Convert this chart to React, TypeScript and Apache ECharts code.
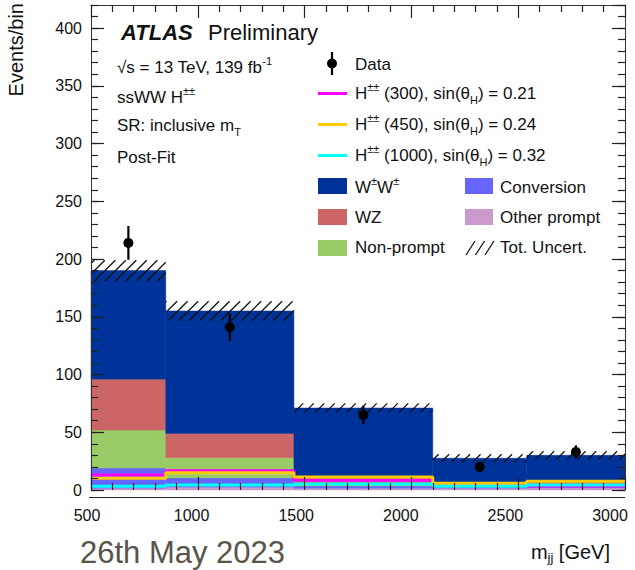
import { useEffect, useRef } from 'react';
import * as echarts from 'echarts';

// m_jj bin edges [GeV]
const binEdges = [500, 850, 1450, 2100, 2540, 3000];

// Post-fit background yields per bin, stacked bottom to top
const otherPrompt = [1.5, 2.5, 1.5, 1.5, 2];
const conversion = [17.5, 8, 2, 1.5, 1.5];
const nonPrompt = [33, 17.5, 3, 2, 2];
const wz = [44, 21, 5, 2, 3];
const wpmwpm = [94, 106, 59.5, 20.5, 21.5];
const totalUncert = [9, 8.5, 4, 3.5, 3.5];

// Observed events and their statistical errors
const dataCounts = [214, 141, 65, 20, 33];
const dataErrors = [14.6, 11.9, 8.1, 4.5, 5.7];

// Signal hypotheses (not stacked)
const sig300 = [13, 16.7, 8.4, 3.5, 3.5];
const sig450 = [10.2, 15, 11.2, 5.9, 7.6];
const sig1000 = [3.2, 4.3, 5.2, 3.2, 4.3];

const FAMILY = "'Liberation Sans', Arial, Helvetica, sans-serif";
const INK = '#111';
const TICK = '#222';

const COLORS = {
  ww: '#003399',
  wz: '#cc6666',
  nonPrompt: '#99cc66',
  conversion: '#6666ff',
  otherPrompt: '#cc99cc',
  s300: '#ff00ff',
  s450: '#ffcc00',
  s1000: '#00ffff',
};

const GRID_MAIN = { left: 91, right: 10, top: 5, bottom: 80 };

function richTokens(size: number, subSize: number) {
  return {
    sup: { fontSize: subSize, fontFamily: FAMILY, lineHeight: 14, verticalAlign: 'top', fill: INK, color: INK },
    sub: { fontSize: subSize, fontFamily: FAMILY, lineHeight: subSize, verticalAlign: 'bottom', fill: INK, color: INK },
  };
}

function label(x: number, y: number, text: string, size: number, extra: any = {}) {
  return {
    type: 'text',
    x,
    y,
    z: 100,
    style: {
      text,
      fontSize: size,
      fontFamily: FAMILY,
      fill: INK,
      lineHeight: 24,
      align: 'left',
      verticalAlign: 'middle',
      textAlign: 'left',
      textVerticalAlign: 'middle',
      rich: richTokens(size, Math.round(size * 0.66)),
      ...extra,
    },
  };
}

function rectRenderer(color: string) {
  return (_params: any, api: any) => {
    const a = api.coord([api.value(0), api.value(3)]);
    const b = api.coord([api.value(1), api.value(2)]);
    return {
      type: 'rect',
      shape: { x: a[0], y: a[1], width: b[0] - a[0], height: b[1] - a[1] },
      style: { fill: color, stroke: color, lineWidth: 0.5 },
    };
  };
}

function hatchRenderer(_params: any, api: any) {
  const a = api.coord([api.value(0), api.value(3)]);
  const b = api.coord([api.value(1), api.value(2)]);
  const left = a[0];
  const top = a[1];
  const right = b[0];
  const bottom = b[1];
  const h = bottom - top;
  const step = 10.5;
  const children: any[] = [];
  const start = Math.floor((left - h) / step) * step;
  for (let s = start; s < right; s += step) {
    let xs = s;
    let ys = bottom;
    let xe = s + h;
    let ye = top;
    if (xs < left) {
      ys = bottom - (left - xs);
      xs = left;
    }
    if (xe > right) {
      ye = top + (xe - right);
      xe = right;
    }
    if (xe - xs < 0.5) continue;
    children.push({
      type: 'line',
      shape: { x1: xs, y1: ys, x2: xe, y2: ye },
      style: { stroke: '#111', lineWidth: 1.3 },
    });
  }
  return { type: 'group', children };
}

function dataRenderer(_params: any, api: any) {
  const x = api.value(0);
  const v = api.value(1);
  const e = api.value(2);
  const c = api.coord([x, v]);
  const hi = api.coord([x, v + e]);
  const lo = api.coord([x, v - e]);
  return {
    type: 'group',
    children: [
      { type: 'line', shape: { x1: c[0], y1: hi[1], x2: c[0], y2: lo[1] }, style: { stroke: '#000', lineWidth: 2.2 } },
      { type: 'circle', shape: { cx: c[0], cy: c[1], r: 5 }, style: { fill: '#000' } },
    ],
  };
}

function stepData(values: number[]) {
  return binEdges.map((e, i) => [e, values[Math.min(i, values.length - 1)]]);
}

function buildOption() {
  const stack = [
    { name: 'Other prompt', values: otherPrompt, color: COLORS.otherPrompt },
    { name: 'Conversion', values: conversion, color: COLORS.conversion },
    { name: 'Non-prompt', values: nonPrompt, color: COLORS.nonPrompt },
    { name: 'WZ', values: wz, color: COLORS.wz },
    { name: 'W±W±', values: wpmwpm, color: COLORS.ww },
  ];
  const base = otherPrompt.map(() => 0);
  const stackSeries = stack.map((s) => {
    const data = s.values.map((v, i) => {
      const lo = base[i];
      const hi = lo + v;
      base[i] = hi;
      return [binEdges[i], binEdges[i + 1], lo, hi];
    });
    return {
      type: 'custom',
      name: s.name,
      xAxisIndex: 0,
      yAxisIndex: 0,
      renderItem: rectRenderer(s.color),
      data,
      z: 2,
      silent: true,
    };
  });

  const uncertData = base.map((tot, i) => [binEdges[i], binEdges[i + 1], tot - totalUncert[i], tot + totalUncert[i]]);

  const lineSeries = [
    { name: 'H±± (300)', values: sig300, color: COLORS.s300 },
    { name: 'H±± (450)', values: sig450, color: COLORS.s450 },
    { name: 'H±± (1000)', values: sig1000, color: COLORS.s1000 },
  ].map((s, k) => ({
    type: 'line',
    name: s.name,
    xAxisIndex: 0,
    yAxisIndex: 0,
    step: 'end',
    showSymbol: false,
    symbol: 'none',
    data: stepData(s.values),
    lineStyle: { color: s.color, width: 3 },
    itemStyle: { color: s.color },
    z: 3 + k * 0.1,
    silent: true,
  }));

  const tickStyle = { color: TICK, width: 1.2 };
  const frameLine = { show: true, onZero: false, lineStyle: { color: '#333', width: 1 } };

  const legendLeft = 318;
  const legendText = 355;
  const legendRight = 465;
  const legendRightText = 500;

  const graphic: any[] = [
    // experiment tag and run info
    label(121, 32.5, 'ATLAS', 22, { fontWeight: 'bold', fontStyle: 'italic' }),
    label(208, 32.5, 'Preliminary', 22),
    label(117, 67, '√s = 13 TeV, 139 fb{sup|-1}', 17),
    label(117, 97, 'ssWW H{sup|±±}', 17),
    label(117, 125, 'SR: inclusive m{sub|T}', 17),
    label(117, 157, 'Post-Fit', 17),

    // legend: data
    { type: 'line', shape: { x1: 332, y1: 52, x2: 332, y2: 75 }, style: { stroke: '#000', lineWidth: 2.2 } },
    { type: 'circle', shape: { cx: 332, cy: 63.5, r: 5 }, style: { fill: '#000' } },
    label(legendText, 64, 'Data', 17),

    // legend: signals
    { type: 'line', shape: { x1: legendLeft, y1: 93.5, x2: legendLeft + 29, y2: 93.5 }, style: { stroke: COLORS.s300, lineWidth: 3 } },
    label(legendText, 93, 'H{sup|±±} (300), sin(θ{sub|H}) = 0.21', 17),
    { type: 'line', shape: { x1: legendLeft, y1: 124.5, x2: legendLeft + 29, y2: 124.5 }, style: { stroke: COLORS.s450, lineWidth: 3 } },
    label(legendText, 124, 'H{sup|±±} (450), sin(θ{sub|H}) = 0.24', 17),
    { type: 'line', shape: { x1: legendLeft, y1: 155.5, x2: legendLeft + 29, y2: 155.5 }, style: { stroke: COLORS.s1000, lineWidth: 3 } },
    label(legendText, 155, 'H{sup|±±} (1000), sin(θ{sub|H}) = 0.32', 17),

    // legend: backgrounds
    { type: 'rect', shape: { x: legendLeft, y: 178, width: 29, height: 16 }, style: { fill: COLORS.ww } },
    label(legendText, 187, 'W{sup|±}W{sup|±}', 17),
    { type: 'rect', shape: { x: legendLeft, y: 209, width: 29, height: 16 }, style: { fill: COLORS.wz } },
    label(legendText, 217.5, 'WZ', 17),
    { type: 'rect', shape: { x: legendLeft, y: 240, width: 29, height: 16 }, style: { fill: COLORS.nonPrompt } },
    label(legendText, 247.5, 'Non-prompt', 17),
    { type: 'rect', shape: { x: legendRight, y: 178, width: 28, height: 16 }, style: { fill: COLORS.conversion } },
    label(legendRightText, 187, 'Conversion', 17),
    { type: 'rect', shape: { x: legendRight, y: 209, width: 28, height: 16 }, style: { fill: COLORS.otherPrompt } },
    label(legendRightText, 217.5, 'Other prompt', 17),
    { type: 'line', shape: { x1: 466, y1: 255, x2: 475, y2: 241 }, style: { stroke: '#111', lineWidth: 1.3 } },
    { type: 'line', shape: { x1: 475.5, y1: 255, x2: 484.5, y2: 241 }, style: { stroke: '#111', lineWidth: 1.3 } },
    { type: 'line', shape: { x1: 485, y1: 255, x2: 494, y2: 241 }, style: { stroke: '#111', lineWidth: 1.3 } },
    label(legendRightText, 247.5, 'Tot. Uncert.', 17),

    // axis titles
    {
      type: 'text',
      x: 26,
      y: 3,
      rotation: Math.PI / 2,
      style: {
        text: 'Events/bin',
        fontSize: 20,
        fontFamily: FAMILY,
        fill: INK,
        align: 'right',
        verticalAlign: 'bottom',
        textAlign: 'right',
        textVerticalAlign: 'bottom',
      },
    },
    label(610, 552, 'm{sub|jj} [GeV]', 20, {
      align: 'right',
      textAlign: 'right',
      rich: {
        sub: { fontSize: 13, fontFamily: FAMILY, lineHeight: 13, verticalAlign: 'bottom', fill: INK, color: INK },
      },
    }),

    // lower frame rule
    { type: 'line', shape: { x1: 89, y1: 497.5, x2: 625, y2: 497.5 }, style: { stroke: '#222', lineWidth: 1.2 } },

    // footer date
    {
      type: 'text',
      x: 80,
      y: 552,
      style: {
        text: '26th May 2023',
        fontSize: 31,
        fontFamily: FAMILY,
        fill: '#5a5349',
        align: 'left',
        verticalAlign: 'middle',
        textAlign: 'left',
        textVerticalAlign: 'middle',
      },
    },
  ];

  return {
    animation: false,
    backgroundColor: '#ffffff',
    textStyle: { fontFamily: FAMILY },
    grid: [
      { ...GRID_MAIN },
      { ...GRID_MAIN },
      { left: 87, right: 25, top: 5, bottom: 80 },
    ],
    xAxis: [
      {
        gridIndex: 0,
        type: 'value',
        min: 500,
        max: 3000,
        interval: 500,
        position: 'bottom',
        z: 10,
        axisLine: { show: false, onZero: false },
        axisTick: { show: true, inside: true, length: 13, lineStyle: tickStyle },
        minorTick: { show: true, splitNumber: 5, length: 7, lineStyle: tickStyle },
        axisLabel: { show: false },
        splitLine: { show: false },
      },
      {
        gridIndex: 0,
        type: 'value',
        min: 500,
        max: 3000,
        interval: 500,
        position: 'top',
        z: 10,
        axisLine: frameLine,
        axisTick: { show: true, inside: true, length: 13, lineStyle: tickStyle },
        minorTick: { show: true, splitNumber: 5, length: 7, lineStyle: tickStyle },
        axisLabel: { show: false },
        splitLine: { show: false },
      },
      { gridIndex: 1, type: 'value', min: 500, max: 3000, show: false },
      {
        gridIndex: 2,
        type: 'value',
        min: 500,
        max: 3000,
        interval: 500,
        position: 'bottom',
        axisLine: { show: false, onZero: false },
        axisTick: { show: false },
        splitLine: { show: false },
        axisLabel: {
          show: true,
          fontSize: 16,
          fontFamily: FAMILY,
          color: INK,
          margin: 17,
          formatter: (v: number) => String(v),
        },
      },
    ],
    yAxis: [
      {
        gridIndex: 0,
        type: 'value',
        min: 0,
        max: 420,
        interval: 50,
        position: 'left',
        z: 10,
        axisLine: frameLine,
        axisTick: { show: true, inside: true, length: 13, lineStyle: tickStyle },
        axisLabel: {
          show: true,
          fontSize: 16,
          fontFamily: FAMILY,
          color: INK,
          margin: 9,
          showMaxLabel: false,
          formatter: (v: number) => String(v),
        },
        splitLine: { show: false },
      },
      {
        gridIndex: 0,
        type: 'value',
        min: 0,
        max: 420,
        interval: 50,
        position: 'right',
        z: 10,
        axisLine: frameLine,
        axisTick: { show: true, inside: true, length: 13, lineStyle: tickStyle },
        axisLabel: { show: false },
        splitLine: { show: false },
      },
      {
        gridIndex: 1,
        type: 'value',
        min: 0,
        max: 420,
        interval: 10,
        position: 'left',
        z: 10,
        axisLine: { show: false, onZero: false },
        axisTick: { show: true, inside: true, length: 7, lineStyle: tickStyle },
        axisLabel: { show: false },
        splitLine: { show: false },
      },
      {
        gridIndex: 1,
        type: 'value',
        min: 0,
        max: 420,
        interval: 10,
        position: 'right',
        z: 10,
        axisLine: { show: false, onZero: false },
        axisTick: { show: true, inside: true, length: 7, lineStyle: tickStyle },
        axisLabel: { show: false },
        splitLine: { show: false },
      },
      { gridIndex: 2, type: 'value', min: 0, max: 420, show: false },
    ],
    series: [
      ...stackSeries,
      ...lineSeries,
      {
        type: 'custom',
        name: 'Tot. Uncert.',
        xAxisIndex: 0,
        yAxisIndex: 0,
        renderItem: hatchRenderer,
        data: uncertData,
        z: 5,
        silent: true,
      },
      {
        type: 'custom',
        name: 'Data',
        xAxisIndex: 0,
        yAxisIndex: 0,
        renderItem: dataRenderer,
        data: dataCounts.map((v, i) => [(binEdges[i] + binEdges[i + 1]) / 2, v, dataErrors[i]]),
        z: 6,
        silent: true,
      },
    ],
    graphic,
  };
}

export default function App() {
  const ref = useRef<HTMLDivElement>(null);
  useEffect(() => {
    if (!ref.current) return;
    const chart = echarts.init(ref.current, undefined, { renderer: 'svg' });
    chart.setOption(buildOption() as any);
    return () => chart.dispose();
  }, []);
  return (
    <div
      ref={ref}
      style={{ position: 'absolute', left: 0, top: 0, width: 635, height: 570, background: '#fff' }}
    />
  );
}
